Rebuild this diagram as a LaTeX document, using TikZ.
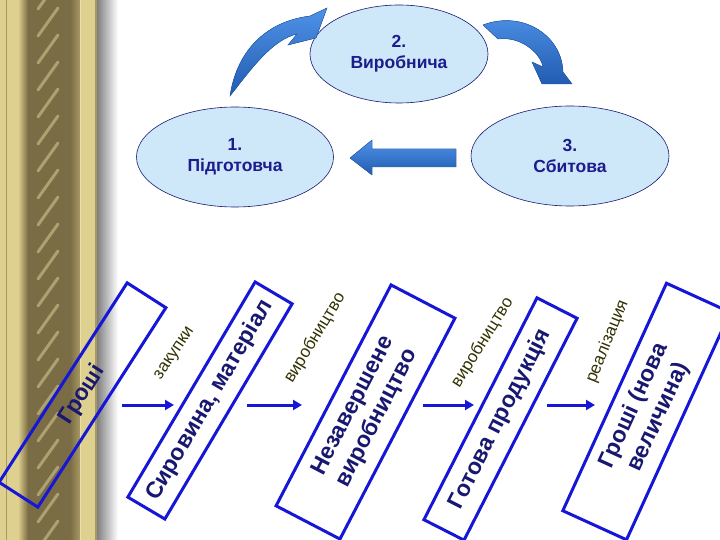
\documentclass[tikz,border=0pt]{standalone}
\usepackage{fontspec}
\setmainfont{Liberation Sans}
\usetikzlibrary{shapes.geometric,arrows.meta}

\definecolor{rimblue}{RGB}{22,22,215}
\definecolor{inkblue}{RGB}{24,24,112}
\definecolor{ovalfill}{RGB}{206,232,250}
\definecolor{ovalink}{RGB}{28,28,140}
\definecolor{olivetext}{RGB}{50,50,0}
\definecolor{goldlite}{RGB}{222,208,142}
\definecolor{goldpale}{RGB}{236,224,168}
\definecolor{goldmid}{RGB}{168,152,100}
\definecolor{golddark}{RGB}{122,108,68}
\definecolor{arrowlite}{RGB}{78,146,232}
\definecolor{arrowdark}{RGB}{34,92,176}

\tikzset{
  stage/.style={ellipse, draw=inkblue, line width=0.6pt, fill=ovalfill, text=ovalink,
    align=center, inner sep=0pt, font=\fontsize{17.5}{21}\selectfont\bfseries},
  asset/.style={draw=rimblue, line width=3pt, text=inkblue, align=center, inner sep=0pt,
    font=\fontsize{23}{27}\selectfont\bfseries},
  act/.style={text=olivetext, inner sep=0pt, font=\fontsize{17}{20}\selectfont},
  flow/.style={draw=rimblue, line width=3pt, -{Triangle[length=9pt,width=10pt]}},
  blockarrow/.style={top color=arrowlite, bottom color=arrowdark, draw=arrowdark, line width=0.4pt}
}

\begin{document}
\begin{tikzpicture}[x=1pt,y=-1pt]
  \useasboundingbox (0,0) rectangle (720,540);
  \fill[white] (0,0) rectangle (720,540);

  % gold pillar on the left
  \fill[goldlite] (0,0) rectangle (97,540);
  \draw[goldmid, line width=1pt] (6.5,0) -- (6.5,540);
  \shade[left color=goldlite, right color=golddark] (18,0) rectangle (28,540);
  \shade[left color=golddark, middle color=goldmid, right color=golddark] (28,0) rectangle (70,540);
  \begin{scope}
    \clip (28,0) rectangle (70,540);
    \foreach \k in {-1,...,21} {
      \draw[goldpale, line width=3pt, opacity=.45, line cap=round] (38,27*\k+36) -- (58,27*\k+8);
      \draw[golddark, line width=3pt, opacity=.35, line cap=round] (34,27*\k+52) -- (56,27*\k+22);
    }
  \end{scope}
  \shade[left color=golddark, right color=goldmid] (70,0) rectangle (80,540);
  \draw[goldpale, line width=1pt] (80.5,0) -- (80.5,540);
  \fill[goldlite] (81,0) rectangle (95,540);
  \fill[goldmid] (95,0) rectangle (97,540);
  \shade[left color=gray, right color=white] (97,0) rectangle (118,540);

  % three stages
  \node[stage, minimum width=178pt, minimum height=98pt] (make) at (399,54) {2.\\Виробнича};
  \node[stage, minimum width=197pt, minimum height=100pt] (prep) at (235,157) {1.\\Підготовча};
  \node[stage, minimum width=198pt, minimum height=100pt] (sell) at (570,156) {3.\\Сбитова};

  % block arrows between the stages
  \fill[blockarrow] (230,96) .. controls (236,55) and (262,22) .. (310,16) -- (327,8) -- (316,38)
    -- (288,45) -- (297,34) .. controls (272,40) and (252,68) .. (230,96) -- cycle;
  \fill[blockarrow] (483,25) .. controls (522,10) and (562,35) .. (563,72) -- (572,84) -- (542,84)
    -- (532,62) -- (543,67) .. controls (540,52) and (520,36) .. (498,39) -- cycle;
  \fill[blockarrow] (456,149) -- (372,149) -- (372,140) -- (350,158) -- (372,175) -- (372,167)
    -- (456,167) -- cycle;

  % forms of capital
  \node[asset, rotate=57.3, minimum width=237pt, minimum height=46pt] (cash) at (82.5,395) {Гроші};
  \node[asset, rotate=59.4, minimum width=250pt, minimum height=43pt] (stock) at (210,400.5) {Сировина, матеріал};
  \node[asset, rotate=62.5, minimum width=249pt, minimum height=72pt] (wip) at (365.5,412) {Незавершене\\виробництво};
  \node[asset, rotate=63, minimum width=249pt, minimum height=45pt] (goods) at (500.5,419) {Готова продукція};
  \node[asset, rotate=65.5, minimum width=250pt, minimum height=70pt] (cashnew) at (646.5,411.5) {Гроші (нова\\величина)};

  % transitions
  \coordinate (buy0) at (122,405);  \coordinate (buy1) at (174,405);
  \coordinate (mfg0) at (247,405);  \coordinate (mfg1) at (302,405);
  \coordinate (fin0) at (423,405);  \coordinate (fin1) at (474,405);
  \coordinate (sal0) at (547,405);  \coordinate (sal1) at (595,405);
  \draw[flow] (buy0) -- (buy1);
  \draw[flow] (mfg0) -- (mfg1);
  \draw[flow] (fin0) -- (fin1);
  \draw[flow] (sal0) -- (sal1);

  \node[act, rotate=56] (buy) at (175,354) {закупки};
  \node[act, rotate=58.7] (mfg) at (315,338) {виробництво};
  \node[act, rotate=58] (fin) at (482.5,342.5) {виробництво};
  \node[act, rotate=68] (sal) at (607.5,341.5) {реалізация};
\end{tikzpicture}
\end{document}
